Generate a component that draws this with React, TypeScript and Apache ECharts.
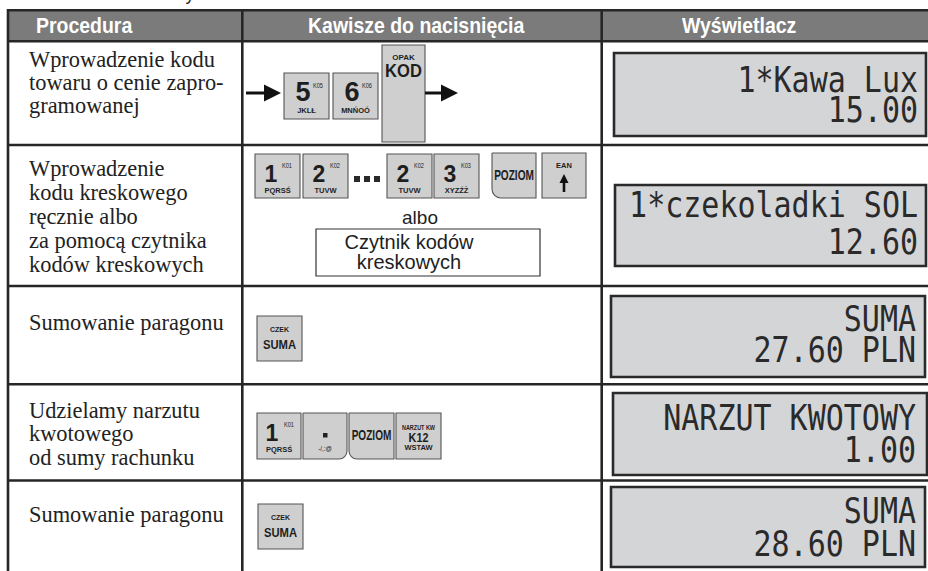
import React, { useEffect, useRef } from "react";
import * as echarts from "echarts";

// ---------- content ----------
const headers = ["Procedura", "Kawisze do nacisnięcia", "Wyświetlacz"];
const procedures: string[][] = [
  ["Wprowadzenie kodu", "towaru o cenie zapro-", "gramowanej"],
  ["Wprowadzenie", "kodu kreskowego", "ręcznie albo", "za pomocą czytnika", "kodów kreskowych"],
  ["Sumowanie paragonu"],
  ["Udzielamy narzutu", "kwotowego", "od sumy rachunku"],
  ["Sumowanie paragonu"],
];
const displays: string[][] = [
  ["1*Kawa Lux", "15.00"],
  ["1*czekoladki SOL", "12.60"],
  ["SUMA", "27.60 PLN"],
  ["NARZUT KWOTOWY", "1.00"],
  ["SUMA", "28.60 PLN"],
];
const row1Keys = [
  { main: "5", sup: "K05", sub: "JKLŁ" },
  { main: "6", sup: "K06", sub: "MNŃOÓ" },
];
const kodKey = { top: "OPAK", label: "KOD" };
const row2Keys = [
  { main: "1", sup: "K01", sub: "PQRSŚ" },
  { main: "2", sup: "K02", sub: "TUVW" },
  { main: "2", sup: "K02", sub: "TUVW" },
  { main: "3", sup: "K03", sub: "XYZŹŻ" },
];
const pozLabel = "POZIOM";
const eanLabel = "EAN";
const alboLabel = "albo";
const scannerLines = ["Czytnik kodów", "kreskowych"];
const sumaKey = { top: "CZEK", label: "SUMA" };
const row4Key1 = { main: "1", sup: "K01", sub: "PQRSŚ" };
const dotKeySub = "-/,:@";
const narzutKey = { top: "NARZUT KW", label: "K12", sub: "WSTAW" };

// ---------- layout ----------
const SANS = "Liberation Sans, Arial, sans-serif";
const SERIF = "Liberation Serif, Times New Roman, serif";
const MONO = "DejaVu Sans Mono, monospace";
const LINE = "#262626";
const KEY_FILL = "#cfcfcf";
const KEY_STROKE = "#555555";

function T(x: number, y: number, text: string, size: number, o: any = {}) {
  return {
    type: "text",
    x,
    y,
    scaleX: o.sx || 1,
    scaleY: o.sy || 1,
    silent: true,
    style: {
      text,
      fill: o.fill || "#1e1e1e",
      fontSize: size,
      fontFamily: o.family || SANS,
      fontWeight: o.weight || "normal",
      textAlign: o.align || "center",
      textVerticalAlign: "middle",
    },
  };
}
function R(x: number, y: number, w: number, h: number, o: any = {}) {
  return {
    type: "rect",
    silent: true,
    shape: { x, y, width: w, height: h, r: o.r || 0 },
    style: { fill: o.fill || "none", stroke: o.stroke || "none", lineWidth: o.lw || 1 },
  };
}
function L(x1: number, y1: number, x2: number, y2: number, lw = 2.6, color = LINE) {
  return { type: "line", silent: true, shape: { x1, y1, x2, y2 }, style: { stroke: color, lineWidth: lw } };
}
function keyBox(x: number, y: number, w: number, h: number, r: any = 0) {
  return R(x, y, w, h, { fill: KEY_FILL, stroke: KEY_STROKE, lw: 1.1, r });
}
// metrics for the key faces
const BIG = { size: 27, dx: 19, dy: 18.5, sdx: 34, sdy: 12, bdy: 37.8 };
const SMALL = { size: 23, dx: 16, dy: 19.5, sdx: 32, sdy: 11, bdy: 36.3 };
function numKey(x: number, y: number, w: number, h: number, k: any, m: any, r: any = 0) {
  return [
    keyBox(x, y, w, h, r),
    T(x + m.dx, y + m.dy, k.main, m.size, { weight: "bold" }),
    T(x + m.sdx, y + m.sdy, k.sup, 7, { sx: 0.8 }),
    T(x + w / 2, y + m.bdy, k.sub, 7.5, { weight: "bold" }),
  ];
}

function buildGraphic() {
  const g: any[] = [];
  // header
  g.push(R(8, 10, 940, 31, { fill: "#7b7b7b" }));
  const headerX = [36, 308, 682];
  headers.forEach((h, i) =>
    g.push(T(headerX[i], 25.5, h, 22, { weight: "bold", fill: "#ffffff", align: "left", sx: 0.885 }))
  );
  // top descender of the text above
  g.push(T(190, -6, "y", 18, { align: "center" }));

  // procedure texts
  const procY = [
    [59, 82, 105],
    [168, 192, 216, 240, 264],
    [322.5],
    [410, 433.5, 457],
    [514],
  ];
  procedures.forEach((lines, r) =>
    lines.forEach((ln, i) => g.push(T(29, procY[r][i], ln, 22.4, { family: SERIF, align: "left", fill: "#222" })))
  );

  // row 1
  g.push(L(246, 93, 268, 93, 3, "#111"));
  g.push({ type: "polygon", silent: true, shape: { points: [[264, 84.5], [281, 93], [264, 101.5]] }, style: { fill: "#111" } });
  const r1x = [284, 333];
  row1Keys.forEach((k, i) => g.push(...numKey(r1x[i], 73, 45, 46, k, BIG)));
  g.push(keyBox(382, 45, 43, 97));
  g.push(T(403.5, 57, kodKey.top, 8, { weight: "bold" }));
  g.push(T(403.5, 71, kodKey.label, 18, { weight: "bold", sx: 0.92 }));
  g.push(L(425, 93, 443, 93, 3, "#111"));
  g.push({ type: "polygon", silent: true, shape: { points: [[441, 84.5], [458, 93], [441, 101.5]] }, style: { fill: "#111" } });

  // row 2
  const r2x = [255, 303, 387, 434];
  row2Keys.forEach((k, i) => g.push(...numKey(r2x[i], 154, 45, 44, k, SMALL)));
  [354, 364, 374].forEach((dx) => g.push(R(dx, 176, 6, 6, { fill: "#2a2a2a" })));
  g.push(keyBox(492, 153, 44, 45, [0, 0, 0, 9]));
  g.push(T(514, 175.5, pozLabel, 14, { weight: "bold", sx: 0.72, align: "center" }));
  g.push(keyBox(542, 153, 44, 45));
  g.push(T(564, 165.5, eanLabel, 7.5, { weight: "bold" }));
  g.push(L(564, 181, 564, 192, 2.6, "#111"));
  g.push({ type: "polygon", silent: true, shape: { points: [[559.5, 183], [564, 174], [568.5, 183]] }, style: { fill: "#111" } });
  g.push(T(420, 217, alboLabel, 19));
  g.push(R(316, 229, 224, 47, { fill: "#fff", stroke: "#333", lw: 1.2 }));
  g.push(T(409, 242, scannerLines[0], 20));
  g.push(T(409, 262, scannerLines[1], 20));

  // row 3 & 5 SUMA keys
  const sumaPos = [
    [257, 316],
    [258, 504],
  ];
  sumaPos.forEach(([x, y]) => {
    g.push(keyBox(x, y, 45, 45));
    g.push(T(x + 22.5, y + 13, sumaKey.top, 7, { weight: "bold" }));
    g.push(T(x + 22.5, y + 29, sumaKey.label, 12.5, { weight: "bold", sx: 0.9 }));
  });

  // row 4
  g.push(...numKey(257, 413, 44, 46, row4Key1, { ...SMALL, dx: 15 }));
  g.push(keyBox(303, 413, 44, 46, [0, 0, 8, 0]));
  g.push(R(323, 433, 4.5, 4.5, { fill: "#222" }));
  g.push(T(325, 448, dotKeySub, 7, { sx: 0.9 }));
  g.push(keyBox(349, 413, 45, 46, [0, 0, 0, 8]));
  g.push(T(371.5, 435.5, pozLabel, 14, { weight: "bold", sx: 0.72 }));
  g.push(keyBox(396, 413, 45, 46));
  g.push(T(418.5, 427, narzutKey.top, 7, { weight: "bold", sx: 0.78 }));
  g.push(T(418.5, 437.5, narzutKey.label, 12, { weight: "bold", sx: 0.9 }));
  g.push(T(418.5, 447, narzutKey.sub, 7.5, { weight: "bold" }));

  // displays
  const dispBox = [
    [614, 53, 312, 83],
    [615, 185, 311, 81],
    [611, 296, 314, 81],
    [613, 393, 314, 82],
    [611, 487, 314, 80],
  ];
  const dispRight = [918, 918, 916, 916, 916];
  const dispY = [
    [80, 109.5],
    [205, 242],
    [319, 350],
    [417.5, 450],
    [511, 543.5],
  ];
  displays.forEach((lines, i) => {
    const [x, y, w, h] = dispBox[i];
    g.push(R(x, y, w, h, { fill: "#d4d5d7", stroke: "#2a2a2a", lw: 2.6 }));
    lines.forEach((ln, j) =>
      g.push(T(dispRight[i], dispY[i][j], ln, 30, { family: MONO, align: "right", sy: 1.2, fill: "#2a2a2a" }))
    );
  });

  // table grid
  [10.3, 41.3, 145, 286, 384.3, 480.5].forEach((y) => g.push(L(7, y, 930, y)));
  [8, 242.3, 601.7].forEach((x) => g.push(L(x, 9, x, 575)));
  return g;
}

export default function App() {
  const ref = useRef<HTMLDivElement>(null);
  useEffect(() => {
    if (!ref.current) return;
    const chart = echarts.init(ref.current, null, { renderer: "svg" });
    chart.setOption({
      animation: false,
      backgroundColor: "#ffffff",
      graphic: { elements: buildGraphic() },
    });
    return () => chart.dispose();
  }, []);
  return (
    <div
      ref={ref}
      style={{ position: "fixed", left: 0, top: 0, width: 928, height: 571, background: "#fff" }}
    />
  );
}
